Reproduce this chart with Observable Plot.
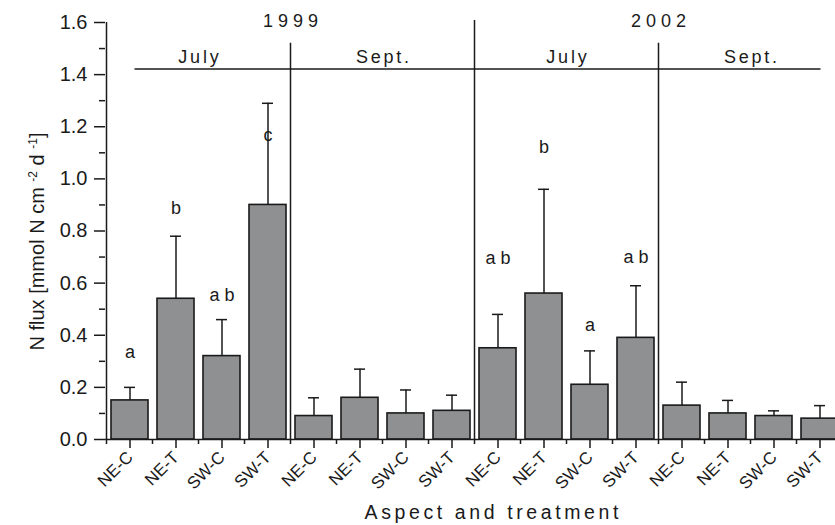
<!DOCTYPE html>
<html>
<head>
<meta charset="utf-8">
<script src="https://cdn.jsdelivr.net/npm/d3@7"></script>
<script src="https://cdn.jsdelivr.net/npm/@observablehq/plot@0.6"></script>
<style>
  html, body { margin: 0; padding: 0; background: #fff; overflow: hidden; }
</style>
</head>
<body>
<div id="chart"></div>
<script>
// ---- data ----
const years = ["1999", "2002"];
const months = ["July", "Sept."];
const treatments = ["NE-C", "NE-T", "SW-C", "SW-T"];
// mean N flux, order: year > month > treatment
const flux =       [0.15, 0.54, 0.32, 0.90,  0.09, 0.16, 0.10, 0.11,  0.35, 0.56, 0.21, 0.39,  0.13, 0.10, 0.09, 0.08];
// top of the (upper) error whisker
const fluxErrTop = [0.20, 0.78, 0.46, 1.29,  0.16, 0.27, 0.19, 0.17,  0.48, 0.96, 0.34, 0.59,  0.22, 0.15, 0.11, 0.13];
// significance letters and the height at which they sit
const letters =    ["a", "b", "a b", "c",  "", "", "", "",  "a b", "b", "a", "a b",  "", "", "", ""];
const letterPos =  [0.334, 0.886, 0.553, 1.167,  0, 0, 0, 0,  0.695, 1.12, 0.437, 0.698,  0, 0, 0, 0];
const yTicks = [0, 0.2, 0.4, 0.6, 0.8, 1.0, 1.2, 1.4, 1.6];
const yMinorTicks = [0.1, 0.3, 0.5, 0.7, 0.9, 1.1, 1.3, 1.5];
const yLabelParts = [["N flux [mmol N cm ", false], ["-2", true], [" d ", false], ["-1", true], ["]", false]];
const xLabel = "Aspect and treatment";
const monthRuleY = 1.42;
const monthLabelY = 1.462;
const monthDividerTop = 1.52;
const yearLabelY = 1.598;

// ---- table ----
const rows = [];
let n = 0;
for (const year of years) for (const month of months) for (const t of treatments) {
  rows.push({key: `${year} ${month} ${t}`, year, month, treatment: t,
             flux: flux[n], top: fluxErrTop[n], letter: letters[n], letterY: letterPos[n]});
  n++;
}
const keys = rows.map(d => d.key);
const groups = [];
years.forEach(yr => months.forEach(m => groups.push({year: yr, month: m, keys: rows.filter(d => d.year === yr && d.month === m).map(d => d.key)})));

const ink = "#1a1a1a";
const font = "'Liberation Sans', Arial, Helvetica, sans-serif";

// ---- decorations drawn from the plot's scales ----
function decor(index, scales, values, dims) {
  const {x, y} = scales;
  const step = x(keys[1]) - x(keys[0]);
  const edge = k => x(k) - (step - x.bandwidth()) / 2;
  const xLeft = edge(keys[0]);
  const xRight = edge(keys[keys.length - 1]) + step;
  const y0 = y(0);
  const g = d3.create("svg:g");
  const line = (x1, y1, x2, y2) => g.append("line")
    .attr("x1", x1).attr("y1", y1).attr("x2", x2).attr("y2", y2)
    .attr("stroke", ink).attr("stroke-width", 1.5);
  const text = (tx, ty, s, size, ls, baseline = "middle") => g.append("text")
    .attr("x", tx + ls / 2).attr("y", ty)
    .attr("text-anchor", "middle").attr("dominant-baseline", baseline)
    .attr("font-size", size).attr("fill", ink)
    .style("letter-spacing", ls + "px").text(s);

  // left axis line
  line(xLeft, y(1.6), xLeft, y0);
  // boundary ticks on x axis
  keys.forEach(k => line(edge(k), y0, edge(k), y0 + 5));
  line(xRight, y0, xRight, y0 + 5);
  // dividers and month labels
  groups.forEach((grp, gi) => {
    if (gi > 0) {
      const top = grp.month === months[0] ? y(1.6) - 2 : y(monthDividerTop);
      line(edge(grp.keys[0]), top, edge(grp.keys[0]), y0);
    }
    text(edge(grp.keys[2]), y(monthLabelY), grp.month, 18, 2.8);
  });
  // month rule
  line(xLeft + 28, y(monthRuleY), xRight - 22, y(monthRuleY));
  // year labels centred on the July/Sept boundary
  years.forEach(yr => {
    const sept = groups.find(d => d.year === yr && d.month === months[1]);
    text(edge(sept.keys[0]), y(yearLabelY), yr, 18, 5);
  });
  // x title
  text((xLeft + xRight) / 2 + 17, y0 + 75, xLabel, 19.5, 3.6);
  // y title with superscripts
  const yt = g.append("text")
    .attr("transform", `translate(${xLeft - 63},${(y(0) + y(1.6)) / 2 + 11}) rotate(-90)`)
    .attr("text-anchor", "middle").attr("font-size", 20).attr("fill", ink);
  let shifted = false;
  yLabelParts.forEach(([s, sup]) => {
    const ts = yt.append("tspan").text(s);
    if (sup && !shifted) { ts.attr("dy", "-0.55em").attr("font-size", 12); shifted = true; }
    else if (!sup && shifted) { ts.attr("dy", "0.33em"); shifted = false; }
    else if (sup) { ts.attr("font-size", 12); }
  });
  return g.node();
}

const chart = Plot.plot({
  width: 835,
  height: 525,
  marginLeft: 105,
  marginRight: -8,
  marginTop: 22,
  marginBottom: 86,
  style: {fontFamily: font, color: ink, background: "#fff", overflow: "visible"},
  x: {type: "band", domain: keys, paddingInner: 0.2, paddingOuter: 0.1, align: 0.5},
  y: {domain: [0, 1.6]},
  marks: [
    Plot.ruleX(rows, {x: "key", y1: "flux", y2: "top", stroke: ink, strokeWidth: 1.5}),
    Plot.tickY(rows, {x: "key", y: "top", stroke: ink, strokeWidth: 1.5, insetLeft: 13, insetRight: 13}),
    Plot.barY(rows, {x: "key", y: "flux", fill: "#8f9092", stroke: ink, strokeWidth: 1.6}),
    Plot.text(rows.filter(d => d.letter), {x: "key", y: "letterY", text: "letter", fontSize: 18, fill: ink}),
    Plot.ruleY([0], {stroke: ink, strokeWidth: 1.5}),
    Plot.axisY(yTicks, {tickSize: 11, tickPadding: 7, tickFormat: d3.format(".1f"), fontSize: 20, label: null, stroke: ink, strokeWidth: 1.5}),
    Plot.axisY(yMinorTicks, {tickSize: 6, tickFormat: () => "", label: null, stroke: ink, strokeWidth: 1.5}),
    Plot.axisX({tickSize: 9, tickPadding: 6, tickRotate: -45, fontSize: 17, label: null, stroke: ink, strokeWidth: 1.5,
                tickFormat: k => rows[keys.indexOf(k)].treatment}),
    decor
  ]
});
document.getElementById("chart").append(chart);
</script>
</body>
</html>
